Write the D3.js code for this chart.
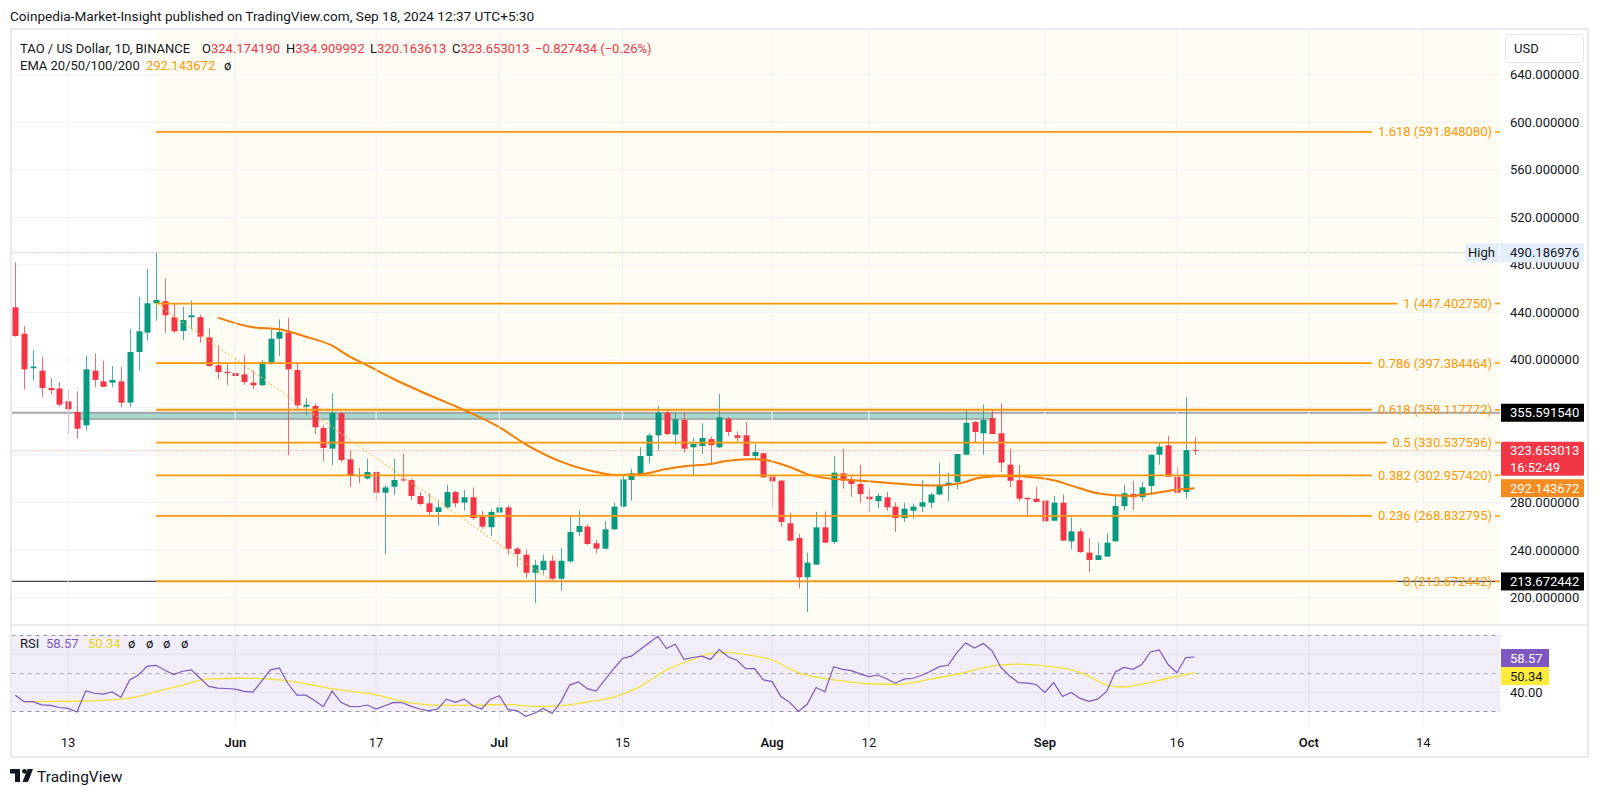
<!DOCTYPE html>
<html><head><meta charset="utf-8">
<script src="https://cdn.jsdelivr.net/npm/d3@7/dist/d3.min.js"></script>
<style>
html,body{margin:0;padding:0;background:#fff;}
svg{display:block;font-family:Roboto,"Liberation Sans",Arial,sans-serif;}
</style></head><body>
<svg id="c" width="1600" height="796"></svg>
<script>
// ---------------- DATA ----------------
const firstDay = "2024-05-07";
const open = [444.3,422.1,393.0,391.0,376.4,376.0,365.2,356.2,345.0,391.0,
382.0,380.9,382.0,364.1,406.7,423.0,447.7,449.4,435.9,424.4,
435.9,436.0,419.0,395.5,390.0,389.0,387.9,380.9,378.7,397.7,
417.9,423.0,391.5,360.7,361.3,342.8,325.4,355.0,316.4,303.0,
300.3,305.8,288.3,293.4,299.5,299.0,285.6,279.4,272.1,276.0,
288.9,280.0,284.5,268.2,259.3,271.6,276.0,241.2,236.2,221.0,
223.3,231.1,216.0,230.5,255.3,259.8,245.8,241.3,257.5,276.6,
299.0,303.5,319.2,336.6,355.7,337.2,349.5,326.5,327.6,333.4,
326.5,350.6,336.6,336.6,319.2,321.5,301.8,298.5,262.6,250.2,
217.2,227.8,259.2,246.9,304.6,298.5,295.7,285.0,281.2,284.5,
276.6,267.0,273.2,276.6,279.9,286.8,294.5,297.3,320.3,347.8,
338.3,351.2,338.3,311.9,298.9,284.0,283.3,281.7,264.8,279.9,
247.4,255.8,237.9,231.7,234.6,247.4,277.1,287.3,284.5,294.0,
320.3,328.2,301.8,288.9,324.174190];
const high = [482.2,428.6,408.4,402.8,384.8,381.5,375.3,373.6,403.3,405.6,
399.4,395.0,394.4,426.3,453.3,476.8,490.186976,468.4,447.0,444.8,
449.9,438.1,426.6,412.3,397.1,402.2,404.0,391.0,400.0,425.2,
434.2,435.3,397.0,368.0,363.5,345.5,372.0,356.2,323.7,309.1,
317.0,306.3,294.5,317.0,320.9,299.9,288.9,287.8,282.3,295.1,
290.0,290.6,292.8,272.7,274.4,284.5,277.7,242.9,240.6,231.9,
236.3,235.7,241.8,268.8,273.3,261.4,248.6,264.2,280.0,303.5,
308.5,326.5,338.3,361.3,358.0,355.7,355.7,334.4,346.7,335.5,
371.4,352.2,339.9,347.8,329.3,322.0,302.4,299.0,271.5,253.6,
237.9,272.1,272.7,319.2,325.4,303.0,311.9,292.0,287.9,289.0,
280.3,279.9,279.2,299.0,288.4,313.6,305.2,320.9,357.9,348.9,
362.4,357.5,363.5,325.4,311.9,284.4,293.4,281.7,285.6,286.8,
267.6,258.0,250.2,246.3,254.2,285.6,295.1,298.5,297.3,320.3,
330.4,336.0,310.2,368.6,334.909992];
const low = [419.5,375.3,382.6,369.1,371.4,360.7,337.7,333.8,341.1,377.0,
377.0,377.0,360.2,360.2,391.0,416.2,433.0,423.0,423.0,416.6,
425.8,414.6,394.0,383.7,379.2,386.0,379.2,375.3,378.0,396.0,
403.3,319.8,358.0,353.4,337.7,314.7,311.4,314.0,293.4,296.2,
299.6,281.6,236.8,286.1,297.5,282.3,277.7,268.8,260.9,274.4,
276.0,273.3,265.4,258.1,251.9,271.0,236.2,226.1,216.6,195.3,
219.4,214.9,205.9,229.4,251.9,244.1,237.3,240.7,256.9,276.0,
281.7,302.5,313.0,323.7,336.6,328.7,322.0,301.8,320.9,313.0,
326.0,336.0,331.6,319.0,316.4,301.0,276.0,259.8,247.4,207.6,
188.0,227.8,246.3,245.2,291.7,285.0,279.9,272.1,275.5,273.3,
255.3,263.7,266.5,272.1,275.5,286.0,281.0,291.2,320.0,330.4,
320.3,337.7,305.8,292.9,281.0,268.2,280.5,263.7,264.8,248.0,
240.7,237.9,221.6,231.7,234.6,247.4,273.8,273.8,281.0,286.2,
311.9,301.8,287.7,283.3,320.163613];
const close = [420.2,392.1,394.4,376.4,374.7,362.4,358.5,342.2,392.1,383.2,
377.5,383.2,364.1,406.7,424.1,447.7,450.5,437.6,424.1,433.6,
437.6,419.6,395.0,389.9,389.0,386.5,381.5,378.7,398.3,417.9,
423.5,392.1,361.9,362.4,343.4,325.9,355.6,315.8,303.0,302.4,
305.8,288.3,292.8,299.0,299.0,285.6,278.8,272.1,276.0,288.9,
279.4,284.5,267.0,259.8,272.1,276.0,241.2,236.8,221.0,227.4,
231.1,216.0,231.1,255.3,260.3,245.2,241.3,257.5,276.6,299.5,
304.6,319.2,336.6,355.7,337.7,350.1,325.4,329.3,334.4,328.3,
351.7,339.4,334.4,319.2,322.6,301.3,297.9,263.7,248.0,217.2,
229.5,259.2,246.3,305.2,298.5,295.7,287.2,282.8,285.6,276.0,
267.0,274.9,276.6,280.3,286.8,294.5,296.7,320.9,347.2,339.4,
349.5,337.7,313.6,298.4,283.3,282.8,280.5,264.3,279.9,248.0,
255.8,238.4,231.7,235.7,246.3,277.1,287.9,284.5,292.9,320.3,
327.1,301.8,288.3,324.2,323.653013];

const emaDates = ["2024-05-30","2024-06-03","2024-06-06","2024-06-09","2024-06-12","2024-06-14","2024-06-16","2024-06-19","2024-06-23","2024-06-27",
"2024-07-01","2024-07-04","2024-07-08","2024-07-12","2024-07-14","2024-07-17","2024-07-20","2024-07-22","2024-07-25","2024-07-27",
"2024-07-30","2024-07-31","2024-08-03","2024-08-05","2024-08-07","2024-08-10","2024-08-14","2024-08-18","2024-08-20","2024-08-22",
"2024-08-25","2024-08-28","2024-08-30","2024-09-02","2024-09-04","2024-09-07","2024-09-09","2024-09-11","2024-09-13","2024-09-16","2024-09-18"];
const emaValues = [435.6,427.5,425.8,419.6,412.0,402.8,395.5,384.0,370.5,357.9,
343.5,329.0,314.5,305.8,303.3,303.8,308.2,310.6,312.5,315.2,
316.4,316.0,310.0,304.0,300.6,299.1,296.8,294.6,294.4,295.8,
301.3,302.4,301.8,298.8,294.3,287.8,286.2,285.6,287.5,290.8,292.143672];

const rsiValues = [38.5,35.1,35.1,33.4,33.1,32.0,31.5,29.6,40.7,39.5,39.0,40.2,37.4,46.5,49.1,53.8,54.2,51.6,49.3,51.1,51.8,47.4,43.1,42.2,42.0,
41.7,40.5,40.1,45.9,51.8,52.8,44.5,38.5,38.5,35.7,32.4,40.6,34.7,32.6,32.4,33.3,31.2,32.9,34.7,34.5,32.6,31.2,30.2,31.2,36.4,34.7,36.4,32.9,31.2,36.4,
38.2,30.9,30.4,27.4,29.0,31.5,28.8,35.1,43.8,45.4,41.9,40.6,46.5,52.4,57.8,59.0,62.5,66.0,69.5,63.0,65.3,57.3,58.3,59.0,57.3,62.5,58.7,56.9,52.4,52.6,46.5,
45.6,37.8,34.7,29.9,33.8,42.5,40.3,53.5,52.1,51.4,49.7,48.3,49.1,47.1,44.8,46.9,47.4,49.0,51.1,53.5,54.2,60.9,66.0,63.3,65.7,61.8,53.1,48.6,45.1,44.8,44.1,
39.9,45.1,37.8,39.9,36.8,35.2,36.4,40.3,50.7,53.1,52.1,54.6,61.2,62.3,54.6,50.3,58.3,58.57];

const rsiMaDates = ["2024-05-08","2024-05-14","2024-05-20","2024-05-23","2024-05-26","2024-05-29","2024-06-02","2024-06-06","2024-06-09","2024-06-12",
"2024-06-17","2024-06-21","2024-06-24","2024-06-29","2024-07-02","2024-07-05","2024-07-08","2024-07-11","2024-07-14","2024-07-17",
"2024-07-20","2024-07-23","2024-07-25","2024-07-27","2024-07-29","2024-08-01","2024-08-04","2024-08-08","2024-08-12","2024-08-15",
"2024-08-19","2024-08-22","2024-08-25","2024-08-27","2024-08-29","2024-09-01","2024-09-04","2024-09-06","2024-09-08","2024-09-10",
"2024-09-12","2024-09-15","2024-09-18"];
const rsiMaValues = [35.1,35.3,36.9,40.4,43.8,47.1,47.4,46.5,44.5,41.9,
38.7,34.4,33.1,33.3,33.6,32.6,32.9,34.9,37.4,43.0,
51.8,57.3,60.5,61.0,59.8,57.0,50.3,46.5,44.5,44.1,
46.9,49.5,52.8,54.4,54.8,53.8,51.8,48.5,43.8,42.8,
44.3,47.4,50.34];

const priceTicks = [200,240,280,320,360,400,440,480,520,560,600,640];
const timeTickDates = ["2024-05-13","2024-06-01","2024-06-17","2024-07-01","2024-07-15","2024-08-01","2024-08-12","2024-09-01","2024-09-16","2024-10-01","2024-10-14"];
const timeTickLabels = ["13","Jun","17","Jul","15","Aug","12","Sep","16","Oct","14"];
const timeTickMonth = [false,true,false,true,false,true,false,true,false,true,false];

const fibRatios = [1.618,1,0.786,0.618,0.5,0.382,0.236,0];
const fibPrices = [591.848080,447.402750,397.384464,358.117772,330.537596,302.957420,268.832795,213.672442];
const fibStartDate = "2024-05-23";
const trendStart = {date:"2024-05-23", price:447.402750};
const trendEnd = {date:"2024-07-07", price:213.672442};

const zoneStartDate = "2024-05-14T09:00";
const zoneEndDate = "2024-08-26";
const zoneTop = 355.591540, zoneBottom = 350.3;
const hLineBlack = 213.672442;
const highPrice = 490.186976;
const lastPrice = 323.653013;
const lastEma = 292.143672;
const rsiLast = 58.57, rsiMaLast = 50.34;
const rsiLevels = [70,50,30];
const rsiGrid = [60,40];

// ---------------- SETUP ----------------
const svg = d3.select("#c");
const parse = d3.utcParse("%Y-%m-%d");
const parseT = d3.utcParse("%Y-%m-%dT%H:%M");
const day0 = parse(firstDay);
const dates = open.map((_, i) => d3.utcDay.offset(day0, i));
const plotL = 11.5, plotR = 1500, mainT = 29.5, mainB = 625, rsiB = 727, frameR = 1588, frameB = 757;

const x = d3.scaleUtc().domain([day0, dates[dates.length - 1]]).range([15.3, 1194.5]);
const y = d3.scaleLinear().domain([200, 640]).range([597.7, 74.7]);
const yr = d3.scaleLinear().domain([30, 70]).range([711.3, 635.3]);

const RED = "#f23645", GREEN = "#089981", ORANGE = "#ff9800", TXT = "#131722";

const defs = svg.append("defs");
defs.append("clipPath").attr("id", "mainClip").append("rect")
  .attr("x", plotL).attr("y", mainT).attr("width", plotR - plotL).attr("height", mainB - mainT);
defs.append("clipPath").attr("id", "rsiClip").append("rect")
  .attr("x", plotL).attr("y", mainB).attr("width", plotR - plotL).attr("height", rsiB - mainB);

// header
svg.append("text").attr("x", 10).attr("y", 21).attr("font-size", 13.6).attr("fill", TXT)
  .text("Coinpedia-Market-Insight published on TradingView.com, Sep 18, 2024 12:37 UTC+5:30");

const main = svg.append("g").attr("clip-path", "url(#mainClip)");
// fib background
const fibX0 = x(parse(fibStartDate));
main.append("rect").attr("x", fibX0).attr("y", mainT).attr("width", plotR - fibX0).attr("height", mainB - mainT)
  .attr("fill", "#fffcf3");

// grid
main.selectAll(".hg").data(priceTicks).join("line")
  .attr("x1", plotL).attr("x2", plotR).attr("y1", d => y(d)).attr("y2", d => y(d))
  .attr("stroke", "#f0f1f4").attr("stroke-width", 1);
svg.append("g").selectAll("line").data(timeTickDates).join("line")
  .attr("x1", d => x(parse(d))).attr("x2", d => x(parse(d)))
  .attr("y1", mainT).attr("y2", rsiB).attr("stroke", "#f0f1f4").attr("stroke-width", 1);

// high dotted
main.append("line").attr("x1", plotL).attr("x2", 1466).attr("y1", y(highPrice)).attr("y2", y(highPrice))
  .attr("stroke", "#9598a1").attr("stroke-width", 1).attr("stroke-dasharray", "1,2");

// black horizontal line
main.append("line").attr("x1", plotL).attr("x2", plotR).attr("y1", y(hLineBlack)).attr("y2", y(hLineBlack))
  .attr("stroke", "#434651").attr("stroke-width", 1.3);

// zone rectangle
const zx0 = x(parseT(zoneStartDate)), zx1 = x(parse(zoneEndDate));
main.append("rect").attr("x", zx0).attr("y", y(zoneTop)).attr("width", zx1 - zx0).attr("height", y(zoneBottom) - y(zoneTop))
  .attr("fill", "#a6d9cb").attr("stroke", "#9e9e9e").attr("stroke-width", 1.5);
// gray horizontal line
main.append("line").attr("x1", plotL).attr("x2", plotR).attr("y1", y(zoneTop)).attr("y2", y(zoneTop))
  .attr("stroke", "#a3a6ad").attr("stroke-width", 2);

// fib levels
const fibG = svg.append("g");
fibRatios.forEach((r, i) => {
  const py = y(fibPrices[i]);
  const t = fibG.append("text").attr("x", 1492).attr("y", py + 4.5).attr("text-anchor", "end")
    .attr("font-size", 13).attr("fill", ORANGE).text(`${r} (${fibPrices[i].toFixed(6)})`);
  const w = t.node().getComputedTextLength();
  fibG.insert("line", "text").attr("x1", fibX0).attr("x2", 1492 - w - 6).attr("y1", py).attr("y2", py)
    .attr("stroke", ORANGE).attr("stroke-width", 1.8);
  fibG.append("line").attr("x1", 1495).attr("x2", plotR).attr("y1", py).attr("y2", py)
    .attr("stroke", ORANGE).attr("stroke-width", 1.5);
});
// fib trend line
svg.append("line").attr("x1", x(parse(trendStart.date))).attr("y1", y(trendStart.price))
  .attr("x2", x(parse(trendEnd.date))).attr("y2", y(trendEnd.price))
  .attr("stroke", "#ffb74d").attr("stroke-width", 1.3).attr("stroke-dasharray", "1.5,2.5");

// last price dotted
main.append("line").attr("x1", plotL).attr("x2", plotR).attr("y1", y(lastPrice)).attr("y2", y(lastPrice))
  .attr("stroke", RED).attr("stroke-opacity", 0.7).attr("stroke-width", 1).attr("stroke-dasharray", "1,2");

// candles
const cg = main.append("g");
const bw = 6;
dates.forEach((d, i) => {
  const up = close[i] >= open[i];
  const col = up ? GREEN : RED;
  const cx = Math.round(x(d)) + 0.5;
  cg.append("line").attr("x1", cx).attr("x2", cx).attr("y1", y(high[i])).attr("y2", y(low[i]))
    .attr("stroke", col).attr("stroke-opacity", 0.75).attr("stroke-width", 1);
  const top = y(Math.max(open[i], close[i])), bot = y(Math.min(open[i], close[i]));
  cg.append("rect").attr("x", cx - bw / 2).attr("y", top).attr("width", bw).attr("height", Math.max(1, bot - top))
    .attr("fill", col);
});

// EMA
main.append("path").datum(emaDates.map((d, i) => [x(parse(d)), y(emaValues[i])]))
  .attr("d", d3.line().curve(d3.curveMonotoneX)).attr("fill", "none")
  .attr("stroke", "#f57c00").attr("stroke-width", 2);

// ---------------- RSI pane ----------------
const rsiG = svg.append("g").attr("clip-path", "url(#rsiClip)");
rsiG.append("rect").attr("x", plotL).attr("y", yr(70)).attr("width", plotR - plotL).attr("height", yr(30) - yr(70))
  .attr("fill", "#7e57c2").attr("fill-opacity", 0.1);
rsiG.selectAll(".rg").data(rsiGrid).join("line")
  .attr("x1", plotL).attr("x2", plotR).attr("y1", d => yr(d)).attr("y2", d => yr(d))
  .attr("stroke", "#e3e0ec").attr("stroke-width", 1);
rsiG.selectAll(".rl").data(rsiLevels).join("line")
  .attr("x1", plotL).attr("x2", plotR).attr("y1", d => Math.round(yr(d)) + 0.5).attr("y2", d => Math.round(yr(d)) + 0.5)
  .attr("stroke", d => d === 50 ? "#a9abb3" : "#9598a1").attr("stroke-width", 1).attr("stroke-dasharray", "4,4");
rsiG.append("path").datum(rsiMaDates.map((d, i) => [x(parse(d)), yr(rsiMaValues[i])]))
  .attr("d", d3.line().curve(d3.curveMonotoneX)).attr("fill", "none").attr("stroke", "#f5e031").attr("stroke-width", 1.3);
rsiG.append("path").datum(dates.map((d, i) => [x(d), yr(rsiValues[i])]))
  .attr("d", d3.line()).attr("fill", "none").attr("stroke", "#7e57c2").attr("stroke-width", 1.2);

// frame
svg.append("rect").attr("x", 11).attr("y", 29).attr("width", frameR - 11).attr("height", frameB - 29)
  .attr("fill", "none").attr("stroke", "#e0e3eb").attr("stroke-width", 1.5);
svg.append("line").attr("x1", 11).attr("x2", frameR).attr("y1", mainB).attr("y2", mainB)
  .attr("stroke", "#e0e3eb").attr("stroke-width", 1.5);

// price axis labels (ticks hidden behind the solid price tags are not drawn, as in the reference)
const fmt6 = d3.format(".6f");
const tagRanges = [[y(zoneTop) - 9, y(zoneTop) + 9], [y(lastPrice) - 9, y(lastPrice) + 25],
                   [y(lastEma) - 9, y(lastEma) + 9], [y(hLineBlack) - 9, y(hLineBlack) + 9]];
const visibleTicks = priceTicks.filter(t => !tagRanges.some(([a, b]) => y(t) > a - 3 && y(t) < b + 3));
svg.append("g").selectAll("text").data(visibleTicks).join("text")
  .attr("x", 1510).attr("y", d => y(d) + 4.5).attr("font-size", 13).attr("fill", TXT).text(d => fmt6(d));

function box(x0, x1, yc, h, fill, rx) {
  svg.append("rect").attr("x", x0).attr("y", yc - h / 2).attr("width", x1 - x0).attr("height", h)
    .attr("fill", fill).attr("rx", rx || 0);
}
function label(xp, yp, txt, col, size, weight) {
  svg.append("text").attr("x", xp).attr("y", yp).attr("font-size", size || 13).attr("fill", col)
    .attr("font-weight", weight || 400).text(txt);
}
// High
box(1465, 1499, y(highPrice), 19, "#e3eefc");
label(1468, y(highPrice) + 4.5, "High", TXT);
box(1500, 1584, y(highPrice), 19, "#e3eefc");
label(1510, y(highPrice) + 4.5, fmt6(highPrice), TXT);
// zone line
box(1501, 1584, y(zoneTop), 18, "#000000");
label(1510, y(zoneTop) + 4.5, fmt6(zoneTop), "#fff");
// last price
svg.append("rect").attr("x", 1501).attr("y", y(lastPrice) - 9).attr("width", 83).attr("height", 34)
  .attr("fill", RED).attr("rx", 1.5);
label(1510, y(lastPrice) + 4.5, fmt6(lastPrice), "#fff");
label(1510, y(lastPrice) + 21, "16:52:49", "#fff");
// ema
box(1501, 1584, y(lastEma), 18, "#f68b1f");
label(1510, y(lastEma) + 4.5, fmt6(lastEma), "#fff");
// black line
box(1501, 1584, y(hLineBlack), 18, "#000000");
label(1510, y(hLineBlack) + 4.5, fmt6(hLineBlack), "#fff");

// USD box
svg.append("rect").attr("x", 1505.5).attr("y", 34.5).attr("width", 78).attr("height", 28).attr("rx", 4)
  .attr("fill", "#fff").attr("stroke", "#e0e3eb");
label(1514, 53, "USD", TXT, 13);

// RSI axis labels
box(1501, 1549, yr(rsiLast) + 1, 18, "#7e57c2");
label(1510, yr(rsiLast) + 5.5, rsiLast.toFixed(2), "#fff");
box(1501, 1549, yr(rsiLast) + 19, 18, "#ffeb3b");
label(1510, yr(rsiLast) + 23.5, rsiMaLast.toFixed(2), TXT);
label(1510, yr(40) + 4.5, "40.00", TXT);

// time axis labels
svg.append("g").selectAll("text").data(timeTickDates).join("text")
  .attr("x", d => x(parse(d))).attr("y", 746.5).attr("text-anchor", "middle").attr("font-size", 13)
  .attr("fill", TXT).attr("font-weight", (d, i) => timeTickMonth[i] ? 600 : 400)
  .text((d, i) => timeTickLabels[i]);

// legends
const l1 = svg.append("text").attr("y", 53).attr("font-size", 13);
l1.append("tspan").attr("x", 20).attr("fill", TXT).text("TAO / US Dollar, 1D, BINANCE");
[["O", 202, "324.174190"], ["H", 286, "334.909992"], ["L", 370, "320.163613"], ["C", 452, "323.653013"]].forEach(([k, xx, v]) => {
  l1.append("tspan").attr("x", xx).attr("fill", TXT).text(k);
  l1.append("tspan").attr("fill", RED).text(v);
});
l1.append("tspan").attr("x", 535).attr("fill", RED).text("\u22120.827434 (\u22120.26%)");
const l2 = svg.append("text").attr("y", 70).attr("font-size", 13);
l2.append("tspan").attr("x", 20).attr("fill", TXT).text("EMA 20/50/100/200");
l2.append("tspan").attr("x", 146).attr("fill", ORANGE).text("292.143672");
l2.append("tspan").attr("x", 224).attr("fill", TXT).text("\u00f8");
const l3 = svg.append("text").attr("y", 648).attr("font-size", 13);
l3.append("tspan").attr("x", 20).attr("fill", TXT).text("RSI");
l3.append("tspan").attr("x", 46).attr("fill", "#7e57c2").text("58.57");
l3.append("tspan").attr("x", 88).attr("fill", "#e8d20c").text("50.34");
[128, 146, 163, 181].forEach(xx => l3.append("tspan").attr("x", xx).attr("fill", TXT).text("\u00f8"));

// TradingView logo
const lg = svg.append("g").attr("fill", TXT);
lg.append("rect").attr("x", 10).attr("y", 769).attr("width", 10).attr("height", 4.5);
lg.append("rect").attr("x", 15).attr("y", 769).attr("width", 5).attr("height", 13);
lg.append("circle").attr("cx", 24.5).attr("cy", 771.3).attr("r", 2.4);
lg.append("path").attr("d", "M27.5,769 L33,769 L28,782 L22.5,782 Z");
label(37, 782, "TradingView", TXT, 15.5);
</script>
</body></html>
